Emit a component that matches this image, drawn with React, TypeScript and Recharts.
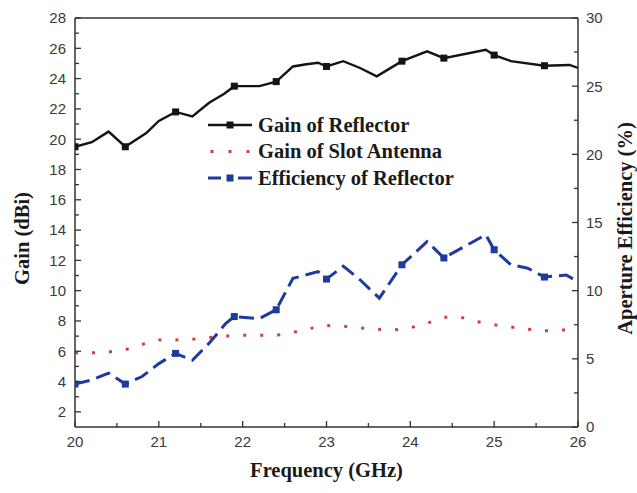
import React from 'react';
import { LineChart, Line, XAxis, YAxis, ReferenceLine } from 'recharts';

// Gain of the reflector (dBi) vs. frequency (GHz)
const freqReflector = [20.0, 20.2, 20.4, 20.6, 20.85, 21.0, 21.2, 21.4, 21.6, 21.78, 21.9, 22.05, 22.2, 22.4, 22.6, 22.76, 22.9, 23.0, 23.2, 23.4, 23.6, 23.9, 24.2, 24.4, 24.9, 25.0, 25.2, 25.6, 25.9, 26.0];
const gainReflector = [19.5, 19.8, 20.5, 19.5, 20.4, 21.2, 21.8, 21.5, 22.4, 23.0, 23.5, 23.5, 23.5, 23.8, 24.8, 24.95, 25.05, 24.8, 25.15, 24.7, 24.15, 25.15, 25.8, 25.35, 25.9, 25.55, 25.15, 24.85, 24.9, 24.7];

// Gain of the slot antenna feed (dBi)
const freqSlot = [20.0, 20.2, 20.4, 20.6, 20.8, 21.0, 21.2, 21.4, 21.6, 21.8, 22.0, 22.2, 22.4, 22.6, 22.8, 23.0, 23.2, 23.4, 23.6, 23.8, 24.0, 24.2, 24.4, 24.6, 24.8, 25.0, 25.2, 25.4, 25.6, 25.8, 26.0];
const gainSlot = [5.9, 5.9, 5.95, 6.1, 6.45, 6.75, 6.75, 6.8, 6.9, 7.0, 7.05, 7.05, 7.05, 7.25, 7.5, 7.7, 7.65, 7.55, 7.45, 7.4, 7.55, 7.85, 8.25, 8.25, 7.95, 7.75, 7.6, 7.45, 7.35, 7.4, 7.45];

// Aperture efficiency of the reflector (%)
const freqEfficiency = [20.0, 20.2, 20.4, 20.6, 20.8, 21.0, 21.2, 21.4, 21.6, 21.8, 21.9, 22.2, 22.4, 22.6, 22.9, 23.0, 23.2, 23.4, 23.63, 23.9, 24.2, 24.4, 24.9, 25.0, 25.2, 25.4, 25.6, 25.86, 26.0];
const efficiencyReflector = [3.15, 3.45, 3.95, 3.15, 3.7, 4.65, 5.4, 4.9, 6.15, 7.6, 8.1, 7.95, 8.6, 10.9, 11.4, 10.85, 11.8, 10.8, 9.45, 11.9, 13.6, 12.4, 14.1, 13.0, 11.9, 11.65, 11.0, 11.15, 10.65];

// Frequencies carrying a square symbol
const markerFreqs = [20.0, 20.6, 21.2, 21.9, 22.4, 23.0, 23.9, 24.4, 25.0, 25.6];

const xTicks = [20, 20.5, 21, 21.5, 22, 22.5, 23, 23.5, 24, 24.5, 25, 25.5, 26];
const gainTicks = [2, 3, 4, 5, 6, 7, 8, 9, 10, 11, 12, 13, 14, 15, 16, 17, 18, 19, 20, 21, 22, 23, 24, 25, 26, 27, 28];
const effTicks = [0, 2.5, 5, 7.5, 10, 12.5, 15, 17.5, 20, 22.5, 25, 27.5, 30];

const reflectorData = freqReflector.map((f, i) => ({ freq: f, gain: gainReflector[i] }));
const slotData = freqSlot.map((f, i) => ({ freq: f, gain: gainSlot[i] }));
const efficiencyData = freqEfficiency.map((f, i) => ({ freq: f, eff: efficiencyReflector[i] }));

const AXIS = '#333';
const TICK_FONT = '"Liberation Sans", Arial, sans-serif';
const TITLE_FONT = '"Liberation Serif", "Times New Roman", serif';
const BLACK = '#141414';
const RED = '#cf3f3f';
const BLUE = '#1f3a9e';

const squareDot = (color: string) => (props: any) => {
  const { cx, cy, payload, index } = props;
  if (!markerFreqs.some((m) => Math.abs(m - payload.freq) < 1e-6)) {
    return <g key={`n-${index}`} />;
  }
  return <rect key={`m-${index}`} x={cx - 3.5} y={cy - 3.5} width={7} height={7} fill={color} />;
};

const BottomTick = (props: any) => {
  const { x, y, payload } = props;
  const axisY = y - 6;
  const v = payload.value;
  const major = Number.isInteger(v);
  return (
    <g>
      <line x1={x} x2={x} y1={axisY} y2={axisY - (major ? 6 : 4)} stroke={AXIS} strokeWidth={1.3} />
      {major && (
        <text x={x} y={axisY + 20} textAnchor="middle" fontFamily={TICK_FONT} fontSize={15} fill="#3a3a3a">
          {v}
        </text>
      )}
    </g>
  );
};

const LeftTick = (props: any) => {
  const { x, y, payload } = props;
  const axisX = x + 9;
  const v = payload.value;
  const major = v % 2 === 0;
  return (
    <g>
      <line x1={axisX} x2={axisX + (major ? 6 : 4)} y1={y} y2={y} stroke={AXIS} strokeWidth={1.3} />
      {major && (
        <text x={x} y={y} dy="0.36em" textAnchor="end" fontFamily={TICK_FONT} fontSize={15} fill="#3a3a3a">
          {v}
        </text>
      )}
    </g>
  );
};

const RightTick = (props: any) => {
  const { x, y, payload } = props;
  const axisX = x - 8;
  const v = payload.value;
  const major = v % 5 === 0;
  return (
    <g>
      <line x1={axisX} x2={axisX - (major ? 6 : 4)} y1={y} y2={y} stroke={AXIS} strokeWidth={1.3} />
      {major && (
        <text x={x} y={y} dy="0.36em" textAnchor="start" fontFamily={TICK_FONT} fontSize={15} fill="#3a3a3a">
          {v}
        </text>
      )}
    </g>
  );
};

const titleStyle = { fontFamily: TITLE_FONT, fontWeight: 700, fontSize: 20.5, fill: '#1a1a1a' };

const legendItems = [
  { name: 'Gain of Reflector', kind: 'solid', color: BLACK },
  { name: 'Gain of Slot Antenna', kind: 'dot', color: RED },
  { name: 'Efficiency of Reflector', kind: 'dash', color: BLUE },
];

const LegendBox = () => (
  <svg width={320} height={84} style={{ display: 'block' }}>
    {legendItems.map((it, i) => {
      const cy = 12 + i * 26.5;
      let sample: React.ReactNode = null;
      if (it.kind === 'solid') {
        sample = (
          <g>
            <line x1={3} x2={47} y1={cy} y2={cy} stroke={it.color} strokeWidth={2.4} />
            <rect x={21.5} y={cy - 3.5} width={7} height={7} fill={it.color} />
          </g>
        );
      } else if (it.kind === 'dot') {
        sample = (
          <g>
            {[7, 25, 43].map((dx) => (
              <rect key={dx} x={dx - 1.5} y={cy - 1.5} width={3} height={3} fill={it.color} />
            ))}
          </g>
        );
      } else {
        sample = (
          <g>
            <line x1={3} x2={16} y1={cy} y2={cy} stroke={it.color} strokeWidth={3} />
            <rect x={21.5} y={cy - 3.5} width={7} height={7} fill={it.color} />
            <line x1={33} x2={47} y1={cy} y2={cy} stroke={it.color} strokeWidth={3} />
          </g>
        );
      }
      return (
        <g key={it.name}>
          {sample}
          <text x={53} y={cy} dy="0.34em" style={titleStyle}>
            {it.name}
          </text>
        </g>
      );
    })}
  </svg>
);

export default function App() {
  return (
    <div style={{ position: 'absolute', left: 0, top: 0, width: 637, height: 493, background: '#fff' }}>
      <LineChart width={637} height={493} margin={{ top: 18, right: 0, bottom: 0, left: 0 }}>
        <XAxis
          dataKey="freq"
          type="number"
          domain={[20, 26]}
          ticks={xTicks}
          interval={0}
          allowDataOverflow
          height={66}
          tickSize={0}
          tickMargin={6}
          tick={<BottomTick />}
          axisLine={{ stroke: AXIS, strokeWidth: 1.5 }}
          label={(p: any) => {
            const vb = p.viewBox;
            return (
              <text x={vb.x + vb.width / 2} y={vb.y + 50} textAnchor="middle" style={titleStyle}>
                Frequency (GHz)
              </text>
            );
          }}
        />
        <YAxis
          yAxisId="gain"
          orientation="left"
          type="number"
          domain={[1, 28]}
          ticks={gainTicks}
          interval={0}
          allowDataOverflow
          width={75}
          tickSize={0}
          tickMargin={9}
          tick={<LeftTick />}
          axisLine={{ stroke: AXIS, strokeWidth: 1.5 }}
          label={(p: any) => {
            const vb = p.viewBox;
            const cx = 22;
            const cy = vb.y + vb.height / 2 + 16;
            return (
              <text x={cx} y={cy} textAnchor="middle" dominantBaseline="central" transform={`rotate(-90 ${cx} ${cy})`} style={titleStyle}>
                Gain (dBi)
              </text>
            );
          }}
        />
        <YAxis
          yAxisId="eff"
          orientation="right"
          type="number"
          domain={[0, 30]}
          ticks={effTicks}
          interval={0}
          allowDataOverflow
          width={59}
          tickSize={0}
          tickMargin={8}
          tick={<RightTick />}
          axisLine={{ stroke: AXIS, strokeWidth: 1.5 }}
          label={(p: any) => {
            const vb = p.viewBox;
            const cx = vb.x + 47;
            const cy = vb.y + vb.height / 2 + 6;
            return (
              <text x={cx} y={cy} textAnchor="middle" dominantBaseline="central" transform={`rotate(-90 ${cx} ${cy})`} style={titleStyle}>
                Aperture Efficiency (%)
              </text>
            );
          }}
        />
        <ReferenceLine yAxisId="gain" y={28} stroke={AXIS} strokeWidth={1.5} ifOverflow="visible" />
        <Line
          data={slotData}
          yAxisId="gain"
          dataKey="gain"
          name="Gain of Slot Antenna"
          stroke={RED}
          strokeWidth={3}
          strokeDasharray="3 14"
          dot={false}
          isAnimationActive={false}
        />
        <Line
          data={efficiencyData}
          yAxisId="eff"
          dataKey="eff"
          name="Efficiency of Reflector"
          stroke={BLUE}
          strokeWidth={3}
          strokeDasharray="15 7"
          dot={squareDot(BLUE)}
          activeDot={false}
          isAnimationActive={false}
        />
        <Line
          data={reflectorData}
          yAxisId="gain"
          dataKey="gain"
          name="Gain of Reflector"
          stroke={BLACK}
          strokeWidth={2.4}
          dot={squareDot(BLACK)}
          activeDot={false}
          isAnimationActive={false}
        />
      </LineChart>
      <div style={{ position: 'absolute', left: 205, top: 113 }}>
        <LegendBox />
      </div>
    </div>
  );
}
